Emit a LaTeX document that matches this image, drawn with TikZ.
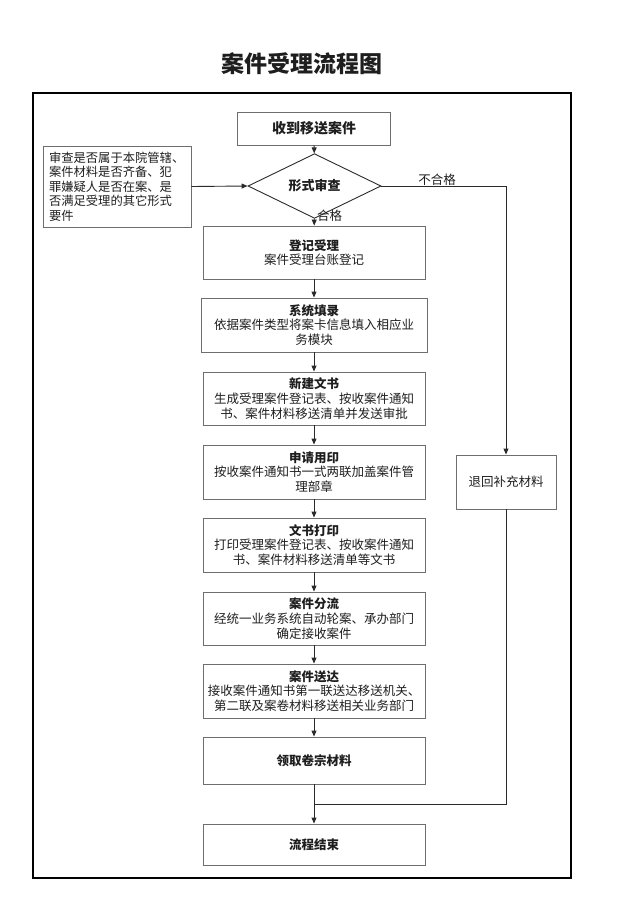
\documentclass[tikz,border=0pt]{standalone}
\usepackage{fontspec}
\setmainfont{Noto Sans CJK SC}
\usetikzlibrary{shapes.geometric,arrows.meta}
\definecolor{boxline}{HTML}{6E6E6E}
\definecolor{conn}{HTML}{2A2A2A}
\definecolor{txt}{HTML}{1E1E1E}
\begin{document}
\begin{tikzpicture}[x=1pt,y=-1pt,
  every node/.style={text=txt,inner sep=0pt},
  stepbox/.style={draw=boxline,line width=0.9pt,rectangle,align=center,
    font=\fontsize{12.5}{14.7}\selectfont,minimum width=222pt},
  notebox/.style={draw=boxline,line width=0.9pt,rectangle,align=left,
    font=\fontsize{12.3}{14.4}\selectfont,text width=136pt,inner xsep=6pt},
  lbl/.style={font=\fontsize{12.5}{14.7}\selectfont},
  arr/.style={draw=conn,line width=0.9pt,-{Triangle[length=6pt,width=5pt]}},
  ln/.style={draw=conn,line width=0.9pt}
]
\useasboundingbox (0,0) rectangle (640,924);
\node[font=\fontsize{23}{26}\selectfont\bfseries] (title) at (302,64) {案件受理流程图};
\draw[line width=2pt,black] (33,93) rectangle (571,878);

\node[stepbox,minimum width=153pt,minimum height=33pt,font=\fontsize{14}{16}\selectfont\bfseries] (start) at (314,128.5) {收到移送案件};
\node[draw=conn,line width=0.9pt,diamond,minimum width=133pt,minimum height=40pt,inner sep=0pt,
  font=\fontsize{13}{15}\selectfont\bfseries] (check) at (314.5,186) {形式审查};
\node[notebox,minimum height=81pt] (note) at (117,186.5) {审查是否属于本院管辖、\\案件材料是否齐备、犯\\罪嫌疑人是否在案、是\\否满足受理的其它形式\\要件};

\node[stepbox,minimum height=53pt] (reg) at (314,252.5) {\textbf{登记受理}\\案件受理台账登记};
\node[stepbox,minimum width=226pt,minimum height=54pt] (sys) at (314,325) {\textbf{系统填录}\\依据案件类型将案卡信息填入相应业\\务模块};
\node[stepbox,minimum height=53pt] (doc) at (314,398.5) {\textbf{新建文书}\\生成受理案件登记表、按收案件通知\\书、案件材料移送清单并发送审批};
\node[stepbox,minimum height=54pt] (seal) at (314,472) {\textbf{申请用印}\\按收案件通知书一式两联加盖案件管\\理部章};
\node[stepbox,minimum height=54pt] (print) at (314,545) {\textbf{文书打印}\\打印受理案件登记表、按收案件通知\\书、案件材料移送清单等文书};
\node[stepbox,minimum height=53pt] (split) at (314,618.5) {\textbf{案件分流}\\经统一业务系统自动轮案、承办部门\\确定接收案件};
\node[stepbox,minimum height=54pt] (send) at (314,691) {\textbf{案件送达}\\接收案件通知书第一联送达移送机关、\\第二联及案卷材料移送相关业务部门};
\node[stepbox,minimum height=47pt,font=\fontsize{12.5}{14.7}\selectfont\bfseries] (take) at (314,760.5) {领取卷宗材料};
\node[stepbox,minimum height=41pt,font=\fontsize{12.5}{14.7}\selectfont\bfseries] (end) at (314,844.5) {流程结束};
\node[stepbox,minimum width=100pt,minimum height=54pt] (back) at (506,482) {退回补充材料};

\coordinate (corner) at (506,186);
\coordinate (join) at (314,804);
\coordinate (joinR) at (506,804);

\draw[arr] (start) -- (check);
\draw[arr] (note.east) -- (check.west);
\draw[arr] (check) -- (reg);
\node[lbl,anchor=west] (pass) at (317,216) {合格};
\draw[arr] (check.east) -- (corner) -- (back.north);
\node[lbl] (fail) at (437,180) {不合格};
\draw[arr] (reg) -- (sys);
\draw[arr] (sys) -- (doc);
\draw[arr] (doc) -- (seal);
\draw[arr] (seal) -- (print);
\draw[arr] (print) -- (split);
\draw[arr] (split) -- (send);
\draw[arr] (send) -- (take);
\draw[arr] (take) -- (end);
\draw[ln] (back.south) -- (joinR) -- (join);
\end{tikzpicture}
\end{document}
